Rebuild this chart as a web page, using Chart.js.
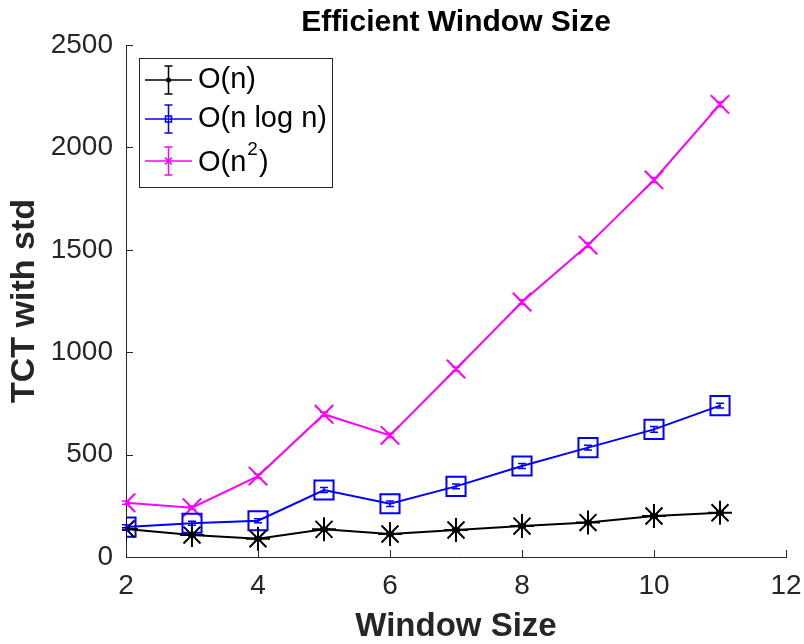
<!DOCTYPE html>
<html>
<head>
<meta charset="utf-8">
<title>Efficient Window Size</title>
<script src="https://cdn.jsdelivr.net/npm/chart.js@4/dist/chart.umd.min.js"></script>
<style>
  html, body { margin: 0; padding: 0; background: #fff; }
  #wrap { width: 804px; height: 644px; }
</style>
</head>
<body>
<div id="wrap"><canvas id="tctChart" width="804" height="644"></canvas></div>
<script>
// window sizes on the x axis
const windowSizes = [2, 3, 4, 5, 6, 7, 8, 9, 10, 11];

// mean TCT per window size
const linearTct = [137, 107, 89, 135, 112, 132, 151, 168, 200, 216];
const nlognTct = [146, 165, 177, 327, 260, 345, 444, 534, 623, 739];
const quadTct = [265, 241, 395, 697, 594, 918, 1245, 1523, 1841, 2210];

// standard deviation per point
const linearStd = [6, 5, 5, 6, 5, 6, 6, 7, 7, 8];
const nlognStd = [12, 10, 10, 12, 14, 12, 12, 12, 14, 12];
const quadStd = [8, 8, 9, 10, 10, 10, 11, 12, 12, 12];

const xTicks = [2, 4, 6, 8, 10, 12];
const yTicks = [0, 500, 1000, 1500, 2000, 2500];

const axisColor = "#262626";
const fontFamily = "'Liberation Sans', Arial, Helvetica, sans-serif";

function toPoints(ys) {
    return windowSizes.map((x, i) => ({ x: x, y: ys[i] }));
}

// error bars drawn from the std arrays
const errorBars = {
    id: "errorBars",
    afterDatasetsDraw(chart) {
        const ctx = chart.ctx;
        const xs = chart.scales.x, ys = chart.scales.y;
        chart.data.datasets.forEach(ds => {
            ctx.save();
            ctx.strokeStyle = ds.borderColor;
            ctx.lineWidth = 1.5;
            ds.data.forEach((p, i) => {
                const s = ds.std[i];
                const px = xs.getPixelForValue(p.x);
                const top = ys.getPixelForValue(p.y + s);
                const bot = ys.getPixelForValue(p.y - s);
                ctx.beginPath();
                ctx.moveTo(px, top); ctx.lineTo(px, bot);
                ctx.moveTo(px - 4, top); ctx.lineTo(px + 4, top);
                ctx.moveTo(px - 4, bot); ctx.lineTo(px + 4, bot);
                ctx.stroke();
            });
            ctx.restore();
        });
    }
};

// inward tick marks and the legend box
const axesDecor = {
    id: "axesDecor",
    afterDraw(chart) {
        const ctx = chart.ctx;
        const xs = chart.scales.x, ys = chart.scales.y;
        const area = chart.chartArea;
        ctx.save();
        ctx.strokeStyle = axisColor;
        ctx.lineWidth = 1;
        xTicks.forEach(v => {
            const px = Math.round(xs.getPixelForValue(v)) + 0.5;
            ctx.beginPath();
            ctx.moveTo(px, area.bottom);
            ctx.lineTo(px, area.bottom - 7);
            ctx.stroke();
        });
        yTicks.forEach(v => {
            const py = Math.round(ys.getPixelForValue(v)) + 0.5;
            ctx.beginPath();
            ctx.moveTo(area.left, py);
            ctx.lineTo(area.left + 7, py);
            ctx.stroke();
        });

        // legend
        const bx = 139.5, by = 58.5, bw = 193, bh = 129;
        ctx.fillStyle = "#fff";
        ctx.fillRect(bx, by, bw, bh);
        ctx.strokeRect(bx, by, bw, bh);
        const rows = [80, 119, 161];
        chart.data.datasets.forEach((ds, i) => {
            const cy = rows[i];
            const cx = 168.5;
            ctx.strokeStyle = ds.borderColor;
            ctx.fillStyle = ds.borderColor;
            ctx.lineWidth = 1.5;
            ctx.beginPath();
            ctx.moveTo(145, cy); ctx.lineTo(192, cy);
            ctx.moveTo(cx, cy - 14); ctx.lineTo(cx, cy + 14);
            ctx.moveTo(cx - 4, cy - 14); ctx.lineTo(cx + 4, cy - 14);
            ctx.moveTo(cx - 4, cy + 14); ctx.lineTo(cx + 4, cy + 14);
            ctx.stroke();
            if (i === 0) {
                ctx.beginPath(); ctx.arc(cx, cy, 2.5, 0, Math.PI * 2); ctx.fill();
            } else if (i === 1) {
                ctx.strokeRect(cx - 3, cy - 3, 6, 6);
            } else {
                ctx.beginPath();
                ctx.moveTo(cx - 3.5, cy - 3.5); ctx.lineTo(cx + 3.5, cy + 3.5);
                ctx.moveTo(cx + 3.5, cy - 3.5); ctx.lineTo(cx - 3.5, cy + 3.5);
                ctx.stroke();
            }
            ctx.fillStyle = "#000";
            ctx.textBaseline = "middle";
            ctx.textAlign = "left";
            ctx.font = "29px " + fontFamily;
            if (ds.label === "O(n^2)") {
                let tx = 198;
                ctx.fillText("O(n", tx, cy + 2);
                tx += ctx.measureText("O(n").width + 1;
                ctx.font = "19px " + fontFamily;
                ctx.fillText("2", tx, cy - 11);
                tx += ctx.measureText("2").width + 1;
                ctx.font = "29px " + fontFamily;
                ctx.fillText(")", tx, cy + 2);
            } else {
                ctx.fillText(ds.label, 198, cy);
            }
        });
        ctx.restore();
    }
};

new Chart(document.getElementById("tctChart"), {
    type: "line",
    data: {
        datasets: [
            {
                label: "O(n)",
                data: toPoints(linearTct),
                std: linearStd,
                borderColor: "#000000",
                backgroundColor: "#000000",
                borderWidth: 2,
                pointStyle: "star",
                pointRadius: 12,
                pointBorderWidth: 2,
                fill: false
            },
            {
                label: "O(n log n)",
                data: toPoints(nlognTct),
                std: nlognStd,
                borderColor: "#0000ff",
                backgroundColor: "rgba(0,0,0,0)",
                borderWidth: 2,
                pointStyle: "rect",
                pointRadius: 13.5,
                pointBorderWidth: 2,
                fill: false
            },
            {
                label: "O(n^2)",
                data: toPoints(quadTct),
                std: quadStd,
                borderColor: "#ff00ff",
                backgroundColor: "#ff00ff",
                borderWidth: 2,
                pointStyle: "crossRot",
                pointRadius: 13,
                pointBorderWidth: 2,
                fill: false
            }
        ]
    },
    options: {
        responsive: false,
        animation: false,
        layout: { padding: { top: 45, right: 18 } },
        plugins: {
            legend: { display: false },
            tooltip: { enabled: false },
            title: { display: false }
        },
        scales: {
            x: {
                type: "linear",
                min: 2,
                max: 12,
                afterFit(scale) {
                    scale.height = 87;
                    scale.paddingLeft = 0;
                    scale.paddingRight = 0;
                },
                afterBuildTicks(scale) { scale.ticks = xTicks.map(v => ({ value: v })); },
                grid: { display: false, drawTicks: false },
                border: { display: true, color: axisColor, width: 1 },
                ticks: {
                    padding: 12,
                    color: axisColor,
                    font: { family: fontFamily, size: 28 },
                    maxRotation: 0,
                    callback: v => String(v)
                },
                title: {
                    display: true,
                    text: "Window Size",
                    color: axisColor,
                    padding: { top: 0, bottom: 1 },
                    font: { family: fontFamily, size: 33, weight: "bold", lineHeight: 1 }
                }
            },
            y: {
                min: 0,
                max: 2500,
                afterFit(scale) { scale.width = 126; },
                afterBuildTicks(scale) { scale.ticks = yTicks.map(v => ({ value: v })); },
                grid: { display: false, drawTicks: false },
                border: { display: true, color: axisColor, width: 1 },
                ticks: {
                    padding: 13,
                    color: axisColor,
                    font: { family: fontFamily, size: 28 },
                    callback: v => String(v)
                },
                title: {
                    display: true,
                    text: "TCT with std",
                    color: axisColor,
                    padding: { top: 4, bottom: 0 },
                    font: { family: fontFamily, size: 34, weight: "bold", lineHeight: 1.2 }
                }
            }
        }
    },
    plugins: [errorBars, axesDecor, {
        id: "plotTitle",
        afterDraw(chart) {
            const ctx = chart.ctx;
            const area = chart.chartArea;
            ctx.save();
            ctx.fillStyle = "#000";
            ctx.font = "bold 30px " + fontFamily;
            ctx.textAlign = "center";
            ctx.textBaseline = "middle";
            ctx.fillText("Efficient Window Size", (area.left + area.right) / 2, 23);
            ctx.restore();
        }
    }]
});
</script>
</body>
</html>
